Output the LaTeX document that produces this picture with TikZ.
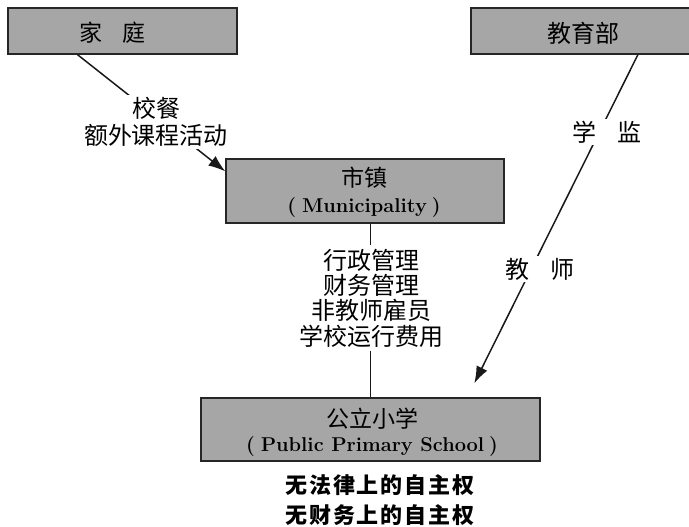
\documentclass[tikz,border=0pt]{standalone}
\usepackage{fontspec}
\newfontfamily\cjk{Noto Sans CJK SC}
\newfontfamily\cjksp[LetterSpace=9]{Noto Sans CJK SC}
\usetikzlibrary{arrows.meta,calc}
\begin{document}
\begin{tikzpicture}[x=1pt,y=-1pt,
  box/.style={draw=black!85,line width=1.4pt,fill=black!35,inner sep=0pt},
  boxcjk/.style={inner sep=0pt,font=\cjk\fontsize{23}{25}\selectfont},
  boxlat/.style={inner sep=0pt,font=\rmfamily\bfseries\fontsize{20}{24}\selectfont},
  lab/.style={fill=white,inner sep=2pt,align=center},
  conn/.style={line width=1.5pt,draw=black!90},
  arr/.style={conn,-{Latex[length=17pt,width=12pt]}}]
\useasboundingbox (0,0) rectangle (689,527);
% boxes
\node[box,minimum width=229pt,minimum height=46pt] (jt) at (122.5,31) {};
\node[boxcjk] (jtT) at ($(jt.center)+(-10,2)$) {家\hspace{0.9em}庭};
\node[box,minimum width=220pt,minimum height=46pt] (moe) at (581,31) {};
\node[boxcjk,font=\cjk\fontsize{24}{25}\selectfont] (moeT) at ($(moe.center)+(2,2)$) {教育部};
\node[box,minimum width=278pt,minimum height=64pt] (ms) at (365,191) {};
\node[boxcjk] (msT1) at ($(ms.center)+(-1,-13)$) {市镇};
\node[boxlat] (msT2) at ($(ms.center)+(-1,17)$) {(\hspace{0.3em}Municipality\hspace{0.25em})};
\node[box,minimum width=339pt,minimum height=63pt] (ps) at (370.5,429.5) {};
\node[boxcjk] (psT1) at ($(ps.center)+(1.5,-10.5)$) {公立小学};
\node[boxlat] (psT2) at ($(ps.center)+(1.5,17.5)$) {(\hspace{0.3em}Public Primary School\hspace{0.25em})};
% connectors
\draw[arr] ($(jt.south west)!0.305!(jt.south east)$) -- ($(ms.north west)!0.2!(ms.south west)$);
\draw[arr] ($(moe.south west)!0.757!(moe.south east)$) -- ($(ps.north west)+(274,-14)$);
\draw[conn] (ps.north |- ms.south) -- (ps.north);
% labels
\node[lab,font=\cjk\fontsize{24}{27}\selectfont] (food) at (156,122) {校餐\\额外课程活动};
\node[lab,font=\cjk\fontsize{24}{25.3}\selectfont,inner sep=4pt] (admin) at (371,298) {行政管理\\财务管理\\非教师雇员\\学校运行费用};
\node[lab,font=\cjk\fontsize{24}{25}\selectfont] (sup) at (607,132) {学\hspace{0.9em}监};
\node[lab,font=\cjk\fontsize{24}{25}\selectfont] (tea) at (540,269) {教\hspace{0.9em}师};
\node[align=center,font=\cjksp\bfseries\fontsize{22}{30}\selectfont] (auto) at (380,500.5) {无法律上的自主权\\无财务上的自主权};
\end{tikzpicture}
\end{document}
